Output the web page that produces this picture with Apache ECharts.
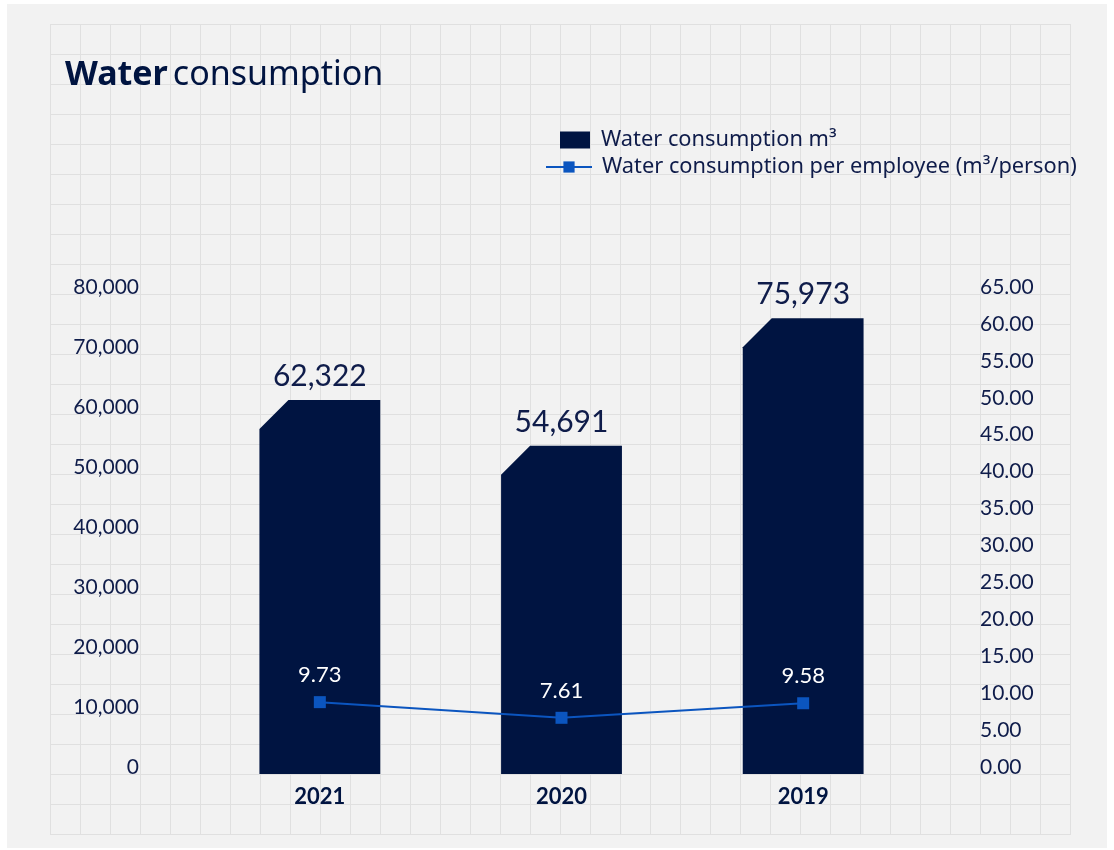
<!DOCTYPE html>
<html>
<head>
<meta charset="utf-8">
<title>Water consumption</title>
<script src="https://cdn.jsdelivr.net/npm/echarts@6/dist/echarts.min.js"></script>
<style>
  html, body { margin: 0; padding: 0; background: #fff; }
  #panel { position: absolute; left: 7px; top: 4px; width: 1100px; height: 844px; background: #f2f2f2; }
  #lines {
    position: absolute; left: 50px; top: 24px; width: 1021px; height: 811px;
    background-image: linear-gradient(to right, #e0e0e0 1px, transparent 1px),
                      linear-gradient(to bottom, #e0e0e0 1px, transparent 1px);
    background-size: 30px 30px;
  }
  #chart { position: absolute; left: 0; top: 0; width: 1114px; height: 850px; }
</style>
</head>
<body>
<div id="panel"></div>
<div id="lines"></div>
<div id="chart"></div>
<script>
// data
var years = ['2021', '2020', '2019'];
var consumption = [62322, 54691, 75973];
var perEmployee = [9.73, 7.61, 9.58];
var barName = 'Water consumption m³';
var lineName = 'Water consumption per employee (m³/person)';

var navy = '#001441';
var textColor = '#0f1c4a';
var blue = '#0b55bf';
var font = 'Lato, "Noto Sans", sans-serif';
var wordFont = '"Noto Sans", Lato, sans-serif';

function fmt(v) {
    return String(v).replace(/\B(?=(\d{3})+(?!\d))/g, ',');
}

//带切角的柱子
function renderBar(params, api) {
    var idx = api.value(0);
    var val = api.value(1);
    var top = api.coord([idx, val]);
    var base = api.coord([idx, 0]);
    var w = api.size([1, 0])[0] * 0.5;
    var x0 = top[0] - w / 2, x1 = top[0] + w / 2;
    var c = Math.min(29, base[1] - top[1]);
    return {
        type: 'group',
        children: [{
            type: 'polygon',
            shape: {
                points: [[x0, base[1]], [x0, top[1] + c], [x0 + c, top[1]], [x1, top[1]], [x1, base[1]]]
            },
            style: { fill: navy }
        }, {
            type: 'text',
            style: {
                text: fmt(val),
                x: top[0],
                y: top[1] - 9,
                align: 'center',
                verticalAlign: 'bottom',
                fill: textColor,
                font: '30px ' + font
            }
        }]
    };
}

var chart = echarts.init(document.getElementById('chart'));
var option = {
    animation: false,
    title: {
        text: '{b|Water} {r|consumption}',
        left: 65,
        top: 58,
        padding: 0,
        textStyle: {
            rich: {
                b: { fontFamily: wordFont, fontSize: 34, fontWeight: 'bold', color: navy },
                r: { fontFamily: wordFont, fontSize: 34, fontWeight: 'normal', color: navy }
            }
        }
    },
    legend: [{
        data: [{ name: barName, icon: 'rect' }],
        left: 560,
        top: 129,
        padding: 0,
        itemWidth: 30,
        itemHeight: 17,
        textStyle: { fontFamily: wordFont, fontSize: 21.8, color: textColor, padding: [0, 0, 0, 6] }
    }, {
        data: [lineName],
        left: 545,
        top: 156,
        padding: 0,
        itemWidth: 46,
        itemHeight: 14,
        textStyle: { fontFamily: wordFont, fontSize: 21.8, color: textColor, padding: [0, 0, 0, 5] }
    }],
    grid: {
        left: 199,
        right: 190,
        top: 294,
        bottom: 76,
        containLabel: false
    },
    xAxis: {
        type: 'category',
        data: years,
        axisLine: { show: false },
        axisTick: { show: false },
        axisLabel: {
            margin: 12,
            fontFamily: font,
            fontSize: 22,
            fontWeight: 'bold',
            color: navy
        }
    },
    yAxis: [{
        type: 'value',
        min: 0,
        max: 80000,
        interval: 10000,
        splitLine: { show: false },
        axisLine: { show: false },
        axisTick: { show: false },
        axisLabel: {
            margin: 60,
            fontFamily: font,
            fontSize: 21,
            color: textColor,
            verticalAlign: 'bottom',
            lineHeight: 14,
            formatter: function(v) { return fmt(v); }
        }
    }, {
        type: 'value',
        min: 0,
        max: 65,
        interval: 5,
        splitLine: { show: false },
        axisLine: { show: false },
        axisTick: { show: false },
        axisLabel: {
            margin: 56,
            fontFamily: font,
            fontSize: 21,
            color: textColor,
            verticalAlign: 'bottom',
            lineHeight: 14,
            formatter: function(v) { return v.toFixed(2); }
        }
    }],
    series: [{
        name: barName,
        type: 'custom',
        renderItem: renderBar,
        itemStyle: { color: navy },
        encode: { x: 0, y: 1 },
        data: consumption.map(function(v, i) { return [i, v]; })
    }, {
        name: lineName,
        type: 'line',
        yAxisIndex: 1,
        symbol: 'rect',
        symbolSize: 12,
        lineStyle: { color: blue, width: 2 },
        itemStyle: { color: blue },
        label: {
            show: true,
            position: 'top',
            distance: 10,
            fontFamily: font,
            fontSize: 22,
            color: '#fff',
            formatter: function(p) { return p.value.toFixed(2); }
        },
        z: 5,
        data: perEmployee
    }]
};
chart.setOption(option);
</script>
</body>
</html>
